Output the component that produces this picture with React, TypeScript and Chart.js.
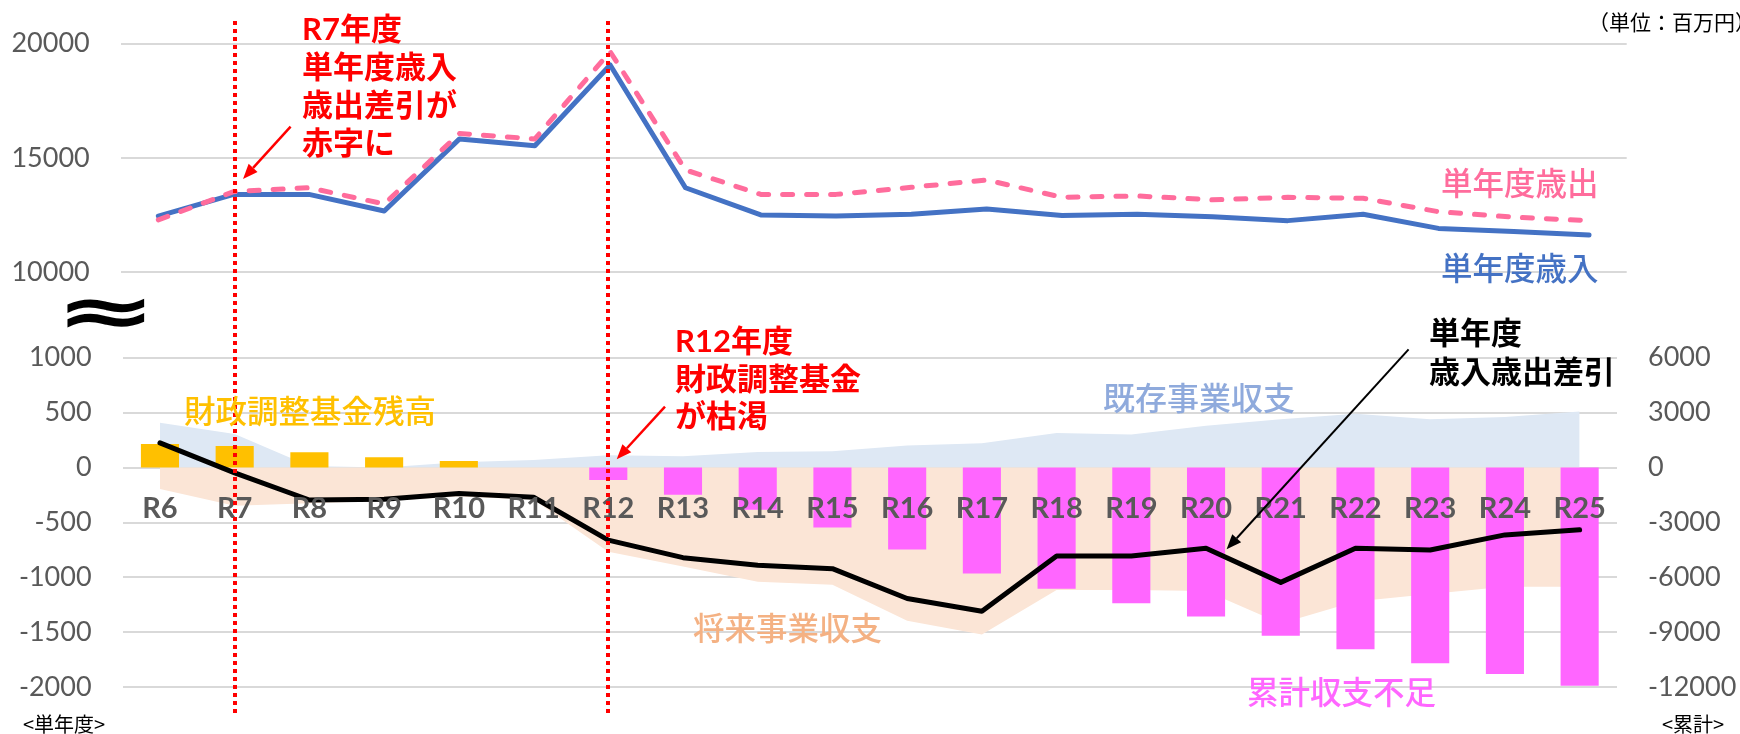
import React, { useEffect, useRef } from 'react';
import { Chart, registerables } from 'chart.js';

Chart.register(...registerables);

// ---------- data ----------
const years = ['R6', 'R7', 'R8', 'R9', 'R10', 'R11', 'R12', 'R13', 'R14', 'R15', 'R16', 'R17', 'R18', 'R19', 'R20', 'R21', 'R22', 'R23', 'R24', 'R25'];

// 単年度歳入 / 単年度歳出 (top panel)
const revenue = [12450, 13400, 13400, 12670, 15830, 15530, 19070, 13690, 12500, 12450, 12530, 12760, 12470, 12530, 12420, 12250, 12530, 11910, 11770, 11620];
const expenditure = [12280, 13520, 13690, 12980, 16070, 15830, 19650, 14470, 13400, 13400, 13710, 14030, 13270, 13330, 13160, 13270, 13230, 12640, 12400, 12250];

// bottom panel, single-year axis (left)
const balance = [225, -48, -295, -288, -235, -270, -660, -820, -890, -920, -1192, -1307, -805, -805, -734, -1045, -734, -750, -613, -567];
const existingBiz = [407, 305, 15, 0, 48, 68, 112, 103, 142, 148, 200, 222, 315, 300, 380, 440, 490, 440, 460, 510];
const futureBiz = [-194, -348, -324, -305, -264, -294, -767, -900, -1040, -1067, -1395, -1520, -1114, -1114, -1123, -1420, -1220, -1150, -1084, -1084];

// bottom panel, cumulative axis (right)
const fundBalance = [1290, 1180, 840, 565, 365, null, null, null, null, null, null, null, null, null, null, null, null, null, null, null];
const cumulativeDeficit = [null, null, null, null, null, null, -680, -1490, -2310, -3275, -4470, -5790, -6615, -7410, -8140, -9180, -9925, -10690, -11280, -11910];

// axis settings
const topAxis = { min: 10000, max: 20000, step: 5000 };
const leftAxis = { min: -2000, max: 1000, step: 500 };
const rightAxis = { min: -12000, max: 6000, step: 3000 };

// marker categories (dotted red lines)
const markerYears = ['R7', 'R12'];

const BLUE = '#4472C4';
const PINK = '#FF6C9C';
const RED = '#FF0000';
const GRID = '#D9D9D9';
const TICK = '#595959';
const JP = '"Noto Sans CJK JP", sans-serif';
const LAT = 'Lato, "Noto Sans CJK JP", sans-serif';

function drawArrow(ctx: CanvasRenderingContext2D, x1: number, y1: number, x2: number, y2: number, color: string, lw: number, hl: number, hw: number) {
  const ang = Math.atan2(y2 - y1, x2 - x1);
  const bx = x2 - hl * Math.cos(ang);
  const by = y2 - hl * Math.sin(ang);
  ctx.save();
  ctx.setLineDash([]);
  ctx.strokeStyle = color;
  ctx.lineWidth = lw;
  ctx.beginPath();
  ctx.moveTo(x1, y1);
  ctx.lineTo(bx, by);
  ctx.stroke();
  ctx.fillStyle = color;
  ctx.beginPath();
  ctx.moveTo(x2, y2);
  ctx.lineTo(bx + (hw / 2) * Math.sin(ang), by - (hw / 2) * Math.cos(ang));
  ctx.lineTo(bx - (hw / 2) * Math.sin(ang), by + (hw / 2) * Math.cos(ang));
  ctx.closePath();
  ctx.fill();
  ctx.restore();
}

function drawText(ctx: CanvasRenderingContext2D, str: string, x: number, y: number, font: string, color: string, align: CanvasTextAlign = 'left') {
  ctx.font = font;
  ctx.fillStyle = color;
  ctx.textAlign = align;
  ctx.textBaseline = 'middle';
  ctx.fillText(str, x, y);
}

const overlayPlugin = {
  id: 'overlay',
  afterDraw(chart: any) {
    const ctx: CanvasRenderingContext2D = chart.ctx;
    const x = chart.scales.x;
    ctx.save();

    // dotted red vertical lines
    ctx.strokeStyle = RED;
    ctx.lineWidth = 4;
    ctx.setLineDash([4, 4]);
    for (const m of markerYears) {
      const px = Math.round(x.getPixelForValue(years.indexOf(m)));
      ctx.beginPath();
      ctx.moveTo(px, 21);
      ctx.lineTo(px, 717);
      ctx.stroke();
    }
    ctx.setLineDash([]);

    // red notes
    const r7 = ['R7年度', '単年度歳入', '歳出差引が', '赤字に'];
    r7.forEach((s, i) => drawText(ctx, s, 302, 30 + i * 38, `bold 31px ${LAT}`, RED));
    const r12 = ['R12年度', '財政調整基金', 'が枯渇'];
    r12.forEach((s, i) => drawText(ctx, s, 675, 342 + i * 37.5, `bold 31px ${LAT}`, RED));
    drawArrow(ctx, 290.6, 126.7, 243, 179, RED, 2.5, 15, 12);
    drawArrow(ctx, 665, 406.7, 616.7, 459.3, RED, 2.5, 15, 12);

    // series labels
    drawText(ctx, '単年度歳出', 1441, 183, `500 31.5px ${JP}`, PINK);
    drawText(ctx, '単年度歳入', 1441, 268, `500 31.5px ${JP}`, BLUE);
    drawText(ctx, '財政調整基金残高', 184, 411, `500 31.5px ${JP}`, '#FFC000');
    drawText(ctx, '既存事業収支', 1103, 398, `500 32px ${JP}`, '#8FAADC');
    drawText(ctx, '将来事業収支', 693, 628, `500 31.5px ${JP}`, '#F4B183');
    drawText(ctx, '累計収支不足', 1247, 692, `500 31.5px ${JP}`, '#FF66FF');

    // black note
    drawText(ctx, '単年度', 1429, 332, `bold 31px ${JP}`, '#000000');
    drawText(ctx, '歳入歳出差引', 1429, 371, `bold 31px ${JP}`, '#000000');
    drawArrow(ctx, 1408.6, 349.3, 1226.6, 549.3, '#000000', 2, 15, 12);

    // unit and axis notes
    drawText(ctx, '（単位：百万円）', 1588, 22, `21px ${JP}`, '#000000');
    drawText(ctx, '<単年度>', 23, 724, `20px ${JP}`, '#000000');
    drawText(ctx, '<累計>', 1662, 724, `20px ${JP}`, '#000000');

    // axis break mark
    ctx.save();
    ctx.translate(106, 317);
    ctx.scale(1.75, 1);
    ctx.font = `bold 70px "DejaVu Sans"`;
    ctx.fillStyle = '#000000';
    ctx.textAlign = 'center';
    ctx.textBaseline = 'middle';
    ctx.fillText('≈', 0, 0);
    ctx.restore();

    ctx.restore();
  },
};

const tickFont = { family: 'Lato', size: 27 };
const numLabel = (v: any) => String(v);
const fitWidth = (w: number) => (s: any) => {
  s.width = w;
  s.paddingTop = 0;
  s.paddingBottom = 0;
};

export default function App() {
  const topRef = useRef<HTMLCanvasElement>(null);
  const botRef = useRef<HTMLCanvasElement>(null);

  useEffect(() => {
    const top = new Chart(topRef.current as HTMLCanvasElement, {
      type: 'line',
      data: {
        labels: years,
        datasets: [
          {
            label: '単年度歳出',
            data: expenditure,
            borderColor: PINK,
            borderWidth: 5,
            borderDash: [10, 14],
            borderCapStyle: 'round',
            borderJoinStyle: 'round',
            pointRadius: 0,
            tension: 0,
            fill: false,
          },
          {
            label: '単年度歳入',
            data: revenue,
            borderColor: BLUE,
            borderWidth: 5,
            borderCapStyle: 'round',
            borderJoinStyle: 'round',
            pointRadius: 0,
            tension: 0,
            fill: false,
          },
        ],
      },
      options: {
        responsive: false,
        animation: false,
        events: [],
        layout: { padding: { top: 43.7, bottom: 28, left: 0, right: 113.3 } },
        plugins: { legend: { display: false }, tooltip: { enabled: false } },
        scales: {
          x: { type: 'category', offset: true, display: false },
          y: {
            min: topAxis.min,
            max: topAxis.max,
            ticks: { stepSize: topAxis.step, padding: 31, color: TICK, font: tickFont, callback: numLabel },
            grid: { color: GRID, lineWidth: 2, drawTicks: false },
            border: { display: false },
            afterFit: fitWidth(120.7),
          },
        },
      },
    } as any);

    const bot = new Chart(botRef.current as HTMLCanvasElement, {
      type: 'bar',
      data: {
        labels: years,
        datasets: [
          {
            type: 'line',
            label: '単年度歳入歳出差引',
            data: balance,
            yAxisID: 'y',
            borderColor: '#000000',
            borderWidth: 5,
            borderCapStyle: 'round',
            borderJoinStyle: 'round',
            pointRadius: 0,
            tension: 0,
            fill: false,
          },
          {
            type: 'bar',
            label: '累計収支不足',
            data: cumulativeDeficit,
            yAxisID: 'y2',
            backgroundColor: '#FF66FF',
            grouped: false,
            barPercentage: 0.51,
            categoryPercentage: 1,
          },
          {
            type: 'bar',
            label: '財政調整基金残高',
            data: fundBalance,
            yAxisID: 'y2',
            backgroundColor: '#FFC000',
            grouped: false,
            barPercentage: 0.51,
            categoryPercentage: 1,
          },
          {
            type: 'line',
            label: '将来事業収支',
            data: futureBiz,
            yAxisID: 'y',
            borderColor: 'rgba(0,0,0,0)',
            borderWidth: 1,
            backgroundColor: '#FBE5D6',
            fill: 'origin',
            pointRadius: 0,
            tension: 0,
          },
          {
            type: 'line',
            label: '既存事業収支',
            data: existingBiz,
            yAxisID: 'y',
            borderColor: 'rgba(0,0,0,0)',
            borderWidth: 1,
            backgroundColor: '#DEE8F4',
            fill: 'origin',
            pointRadius: 0,
            tension: 0,
          },
        ],
      },
      options: {
        responsive: false,
        animation: false,
        events: [],
        layout: { padding: { top: 357.7, bottom: 46.7, left: 0, right: 0 } },
        plugins: { legend: { display: false }, tooltip: { enabled: false } },
        scales: {
          x: {
            type: 'category',
            position: { y: 0 },
            offset: true,
            grid: { display: false, drawTicks: false },
            border: { display: false },
            ticks: {
              padding: 24,
              color: TICK,
              font: { family: 'Lato', size: 29, weight: 'bold' },
              autoSkip: false,
              maxRotation: 0,
              z: 1,
            },
          },
          y: {
            position: 'left',
            min: leftAxis.min,
            max: leftAxis.max,
            ticks: { stepSize: leftAxis.step, padding: 31, color: TICK, font: tickFont, callback: numLabel },
            grid: { color: GRID, lineWidth: 2, drawTicks: false },
            border: { display: false },
            afterFit: fitWidth(122.6),
          },
          y2: {
            position: 'right',
            min: rightAxis.min,
            max: rightAxis.max,
            ticks: { stepSize: rightAxis.step, padding: 31, color: TICK, font: tickFont, callback: numLabel },
            grid: { display: false, drawTicks: false },
            border: { display: false },
            afterFit: fitWidth(123),
          },
        },
      },
      plugins: [overlayPlugin],
    } as any);

    return () => {
      top.destroy();
      bot.destroy();
    };
  }, []);

  return (
    <div style={{ position: 'absolute', left: 0, top: 0, width: 1740, height: 734, background: '#ffffff', overflow: 'hidden' }}>
      <canvas ref={topRef} width={1740} height={300} style={{ position: 'absolute', left: 0, top: 0, zIndex: 0 }} />
      <canvas ref={botRef} width={1740} height={734} style={{ position: 'absolute', left: 0, top: 0, zIndex: 1 }} />
    </div>
  );
}
